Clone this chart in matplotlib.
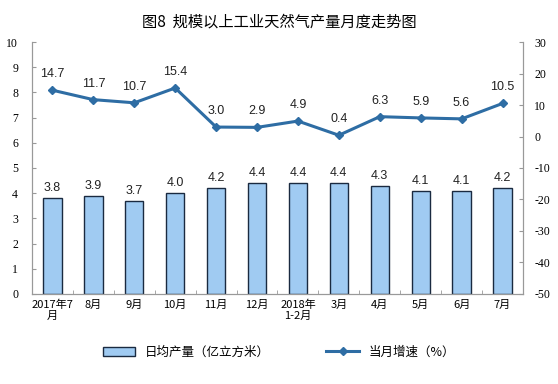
import matplotlib.pyplot as plt
import numpy as np

plt.rcParams['font.family'] = ['Noto Sans CJK SC', 'DejaVu Sans']
plt.rcParams['axes.unicode_minus'] = False

# 数据
months = ['2017年7\n月', '8月', '9月', '10月', '11月', '12月', '2018年\n1-2月',
          '3月', '4月', '5月', '6月', '7月']
daily_output = [3.8, 3.9, 3.7, 4.0, 4.2, 4.4, 4.4, 4.4, 4.3, 4.1, 4.1, 4.2]
growth = [14.7, 11.7, 10.7, 15.4, 3.0, 2.9, 4.9, 0.4, 6.3, 5.9, 5.6, 10.5]

fig = plt.figure(figsize=(5.58, 3.84), dpi=100)
ax = fig.add_axes([0.0573, 0.2344, 0.88, 0.6562])
ax2 = ax.twinx()

x = np.arange(len(months))
bars = ax.bar(x, daily_output, width=0.45, color='#A0CBF2', edgecolor='#1a2a40',
              linewidth=1.0, label='日均产量（亿立方米）', zorder=2)
for xi, v in zip(x, daily_output):
    ax.text(xi, v + 0.15, f'{v:.1f}', ha='center', va='bottom', fontsize=9,
            family=['Liberation Sans', 'DejaVu Sans'], color='#222222')

line, = ax2.plot(x, growth, color='#2E6DA4', linewidth=2.2, marker='D',
                 markersize=4, label='当月增速（%）', zorder=3)
for xi, v in zip(x, growth):
    ax2.text(xi, v + 3.2, f'{v:.1f}', ha='center', va='bottom', fontsize=9,
             family=['Liberation Sans', 'DejaVu Sans'], color='#222222')

ax.set_xlim(-0.5, len(months) - 0.5)
ax.set_ylim(0, 10)
ax.set_yticks(range(0, 11))
ax2.set_ylim(-50, 30)
ax2.set_yticks(range(-50, 31, 10))

serif = ['Liberation Serif', 'DejaVu Serif']
for lab in ax.get_yticklabels():
    lab.set_family(serif)
for lab in ax2.get_yticklabels():
    lab.set_family(serif)

ax.set_xticks(x)
ax.set_xticklabels(months, fontsize=8, linespacing=1.1)
ax.set_xticks(np.arange(-0.5, len(months)), minor=True)
ax.tick_params(axis='x', which='major', length=0, pad=4)
ax.tick_params(axis='x', which='minor', length=3, direction='in', color='#999999')
ax.tick_params(axis='y', direction='in', length=3, color='#999999', labelsize=8.5, pad=10)
ax2.tick_params(axis='y', direction='in', length=3, color='#999999', labelsize=8.5, pad=8)

for a in (ax, ax2):
    a.spines['top'].set_visible(False)
    for s in ('left', 'right', 'bottom'):
        a.spines[s].set_color('#999999')

fig.text(0.5, 0.943, '图8  规模以上工业天然气产量月度走势图', ha='center', va='center',
         fontsize=11)

fig.legend(handles=[bars, line], loc='center', bbox_to_anchor=(0.5, 0.083), ncol=2,
           frameon=False, fontsize=9, handlelength=2.6, columnspacing=4.5)

fig.savefig('out.png', dpi=100)
